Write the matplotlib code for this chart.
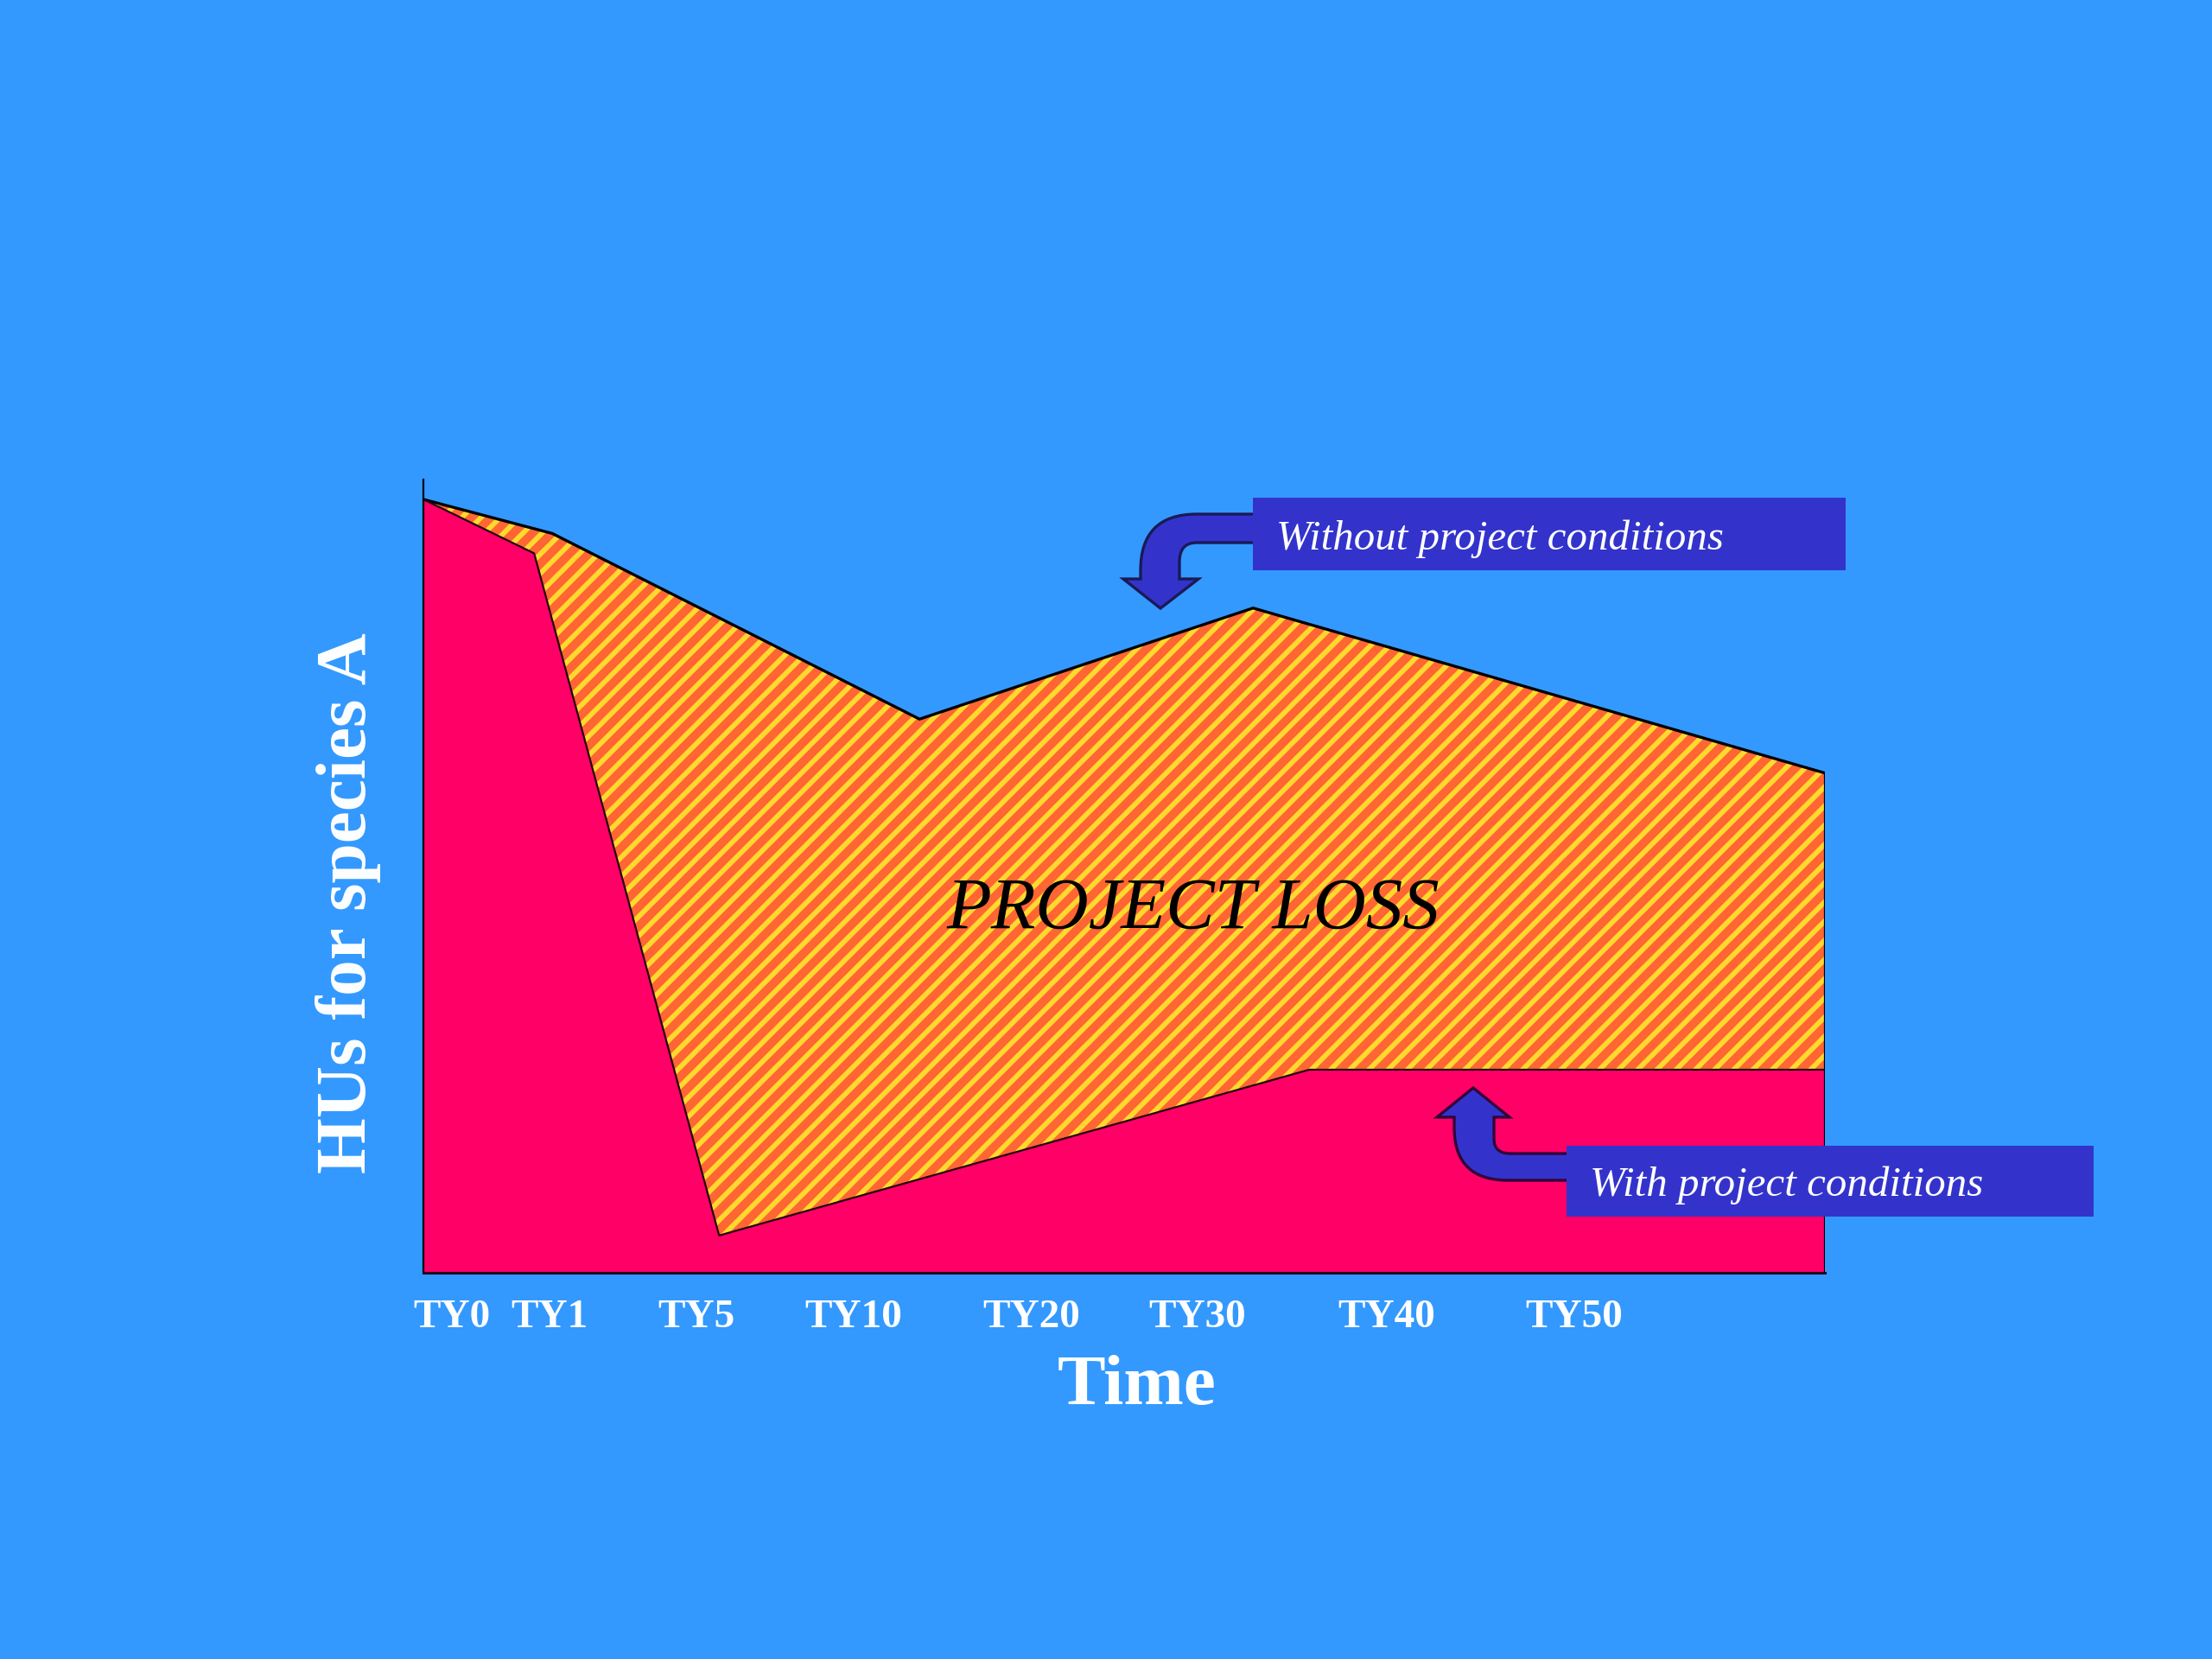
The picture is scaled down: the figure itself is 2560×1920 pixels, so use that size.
import matplotlib
matplotlib.use('Agg')
import matplotlib.pyplot as plt
import matplotlib.transforms as mtransforms
from matplotlib.path import Path
from matplotlib.patches import PathPatch, Rectangle
import numpy as np

# ---- data ----
without_x = [0, 9.2, 35.4, 59.2, 100]
without_y = [97.5, 93.2, 69.8, 83.8, 63.0]
with_x = [0, 7.9, 21.1, 63.2, 100]
with_y = [97.5, 90.7, 4.7, 25.6, 25.6]
tick_labels = ['TY0', 'TY1', 'TY5', 'TY10', 'TY20', 'TY30', 'TY40', 'TY50']
tick_pos = [2.0, 9.0, 19.5, 30.7, 43.4, 55.2, 68.7, 82.1]

BG = '#3399FF'
PINK = '#FF0066'
ORANGE = '#FF6633'
YELLOW = '#FFD92E'
BOX = '#3333CC'
SERIF = ['Liberation Serif', 'DejaVu Serif']

plt.rcParams['hatch.linewidth'] = 2.1

W, H = 2560, 1920
DPI = 200
fig = plt.figure(figsize=(W / DPI, H / DPI), dpi=DPI, facecolor=BG)
ax = fig.add_axes([490 / W, 1 - 1473 / H, (2112 - 490) / W, (1473 - 555) / H])
ax.set_facecolor('none')
ax.set_xlim(0, 100)
ax.set_ylim(0, 100)

# with-project area (pink)
ax.fill_between(with_x, 0, with_y, facecolor=PINK, edgecolor='none', zorder=1)
# project loss area (hatched)
px = np.r_[without_x, with_x[::-1]]
py = np.r_[without_y, with_y[::-1]]
ax.fill(px, py, facecolor=ORANGE, edgecolor='none', zorder=2)
ax.fill(px, py, facecolor='none', edgecolor=YELLOW, hatch='///', linewidth=0, zorder=3)
# outlines
ax.plot(without_x, without_y, color='black', lw=1.2, zorder=4, solid_joinstyle='round')
ax.plot(with_x, with_y, color='#220011', lw=0.8, zorder=4)
ax.plot([100, 100], [0, without_y[-1]], color='black', lw=0.8, zorder=4)

for s in ['top', 'right']:
    ax.spines[s].set_visible(False)
ax.spines['left'].set_color('black')
ax.spines['bottom'].set_color('#220022')
ax.spines['left'].set_linewidth(0.8)
ax.spines['bottom'].set_linewidth(1.1)
ax.set_yticks([])
ax.set_xticks(tick_pos)
ax.set_xticklabels(tick_labels, family=SERIF, fontweight='bold', color='white', fontsize=17)
ax.tick_params(axis='x', length=0, pad=11)

ax.text(54.9, 45.6, 'PROJECT LOSS', family=SERIF, style='italic', fontsize=30.5,
        color='black', ha='center', va='center', zorder=5)

# axis titles
fig.text(403 / W, 1 - 1045 / H, 'HUs for species A', family=SERIF, fontweight='bold',
         color='white', fontsize=30, rotation=90, ha='center', va='center')
fig.text(1316 / W, 1 - 1606 / H, 'Time', family=SERIF, fontweight='bold',
         color='white', fontsize=30, ha='center', va='center')

# pixel transform (y down)
T = mtransforms.Affine2D().scale(1 / W, -1 / H).translate(0, 1) + fig.transFigure

M, L, Q, C = Path.MOVETO, Path.LINETO, Path.CURVE3, Path.CLOSEPOLY
# bent arrow pointing down (without project)
v1 = [(1455, 595), (1385, 595), (1320, 595), (1320, 660), (1320, 670), (1300, 670),
      (1343, 704), (1387, 670), (1365, 670), (1365, 650), (1365, 628), (1385, 628),
      (1455, 628), (1455, 595)]
c1 = [M, L, Q, Q, L, L, L, L, L, L, Q, Q, L, C]
fig.add_artist(PathPatch(Path(v1, c1), facecolor=BOX, edgecolor='#1a1a55', lw=1.2,
                         transform=T, zorder=2))
# bent arrow pointing up (with project)
v2 = [(1705, 1259), (1747, 1293), (1729, 1293), (1729, 1318), (1729, 1335), (1748, 1335),
      (1818, 1335), (1818, 1366), (1745, 1366), (1683, 1366), (1683, 1305), (1683, 1293),
      (1663, 1293), (1705, 1259)]
c2 = [M, L, L, L, Q, Q, L, L, L, Q, Q, L, L, C]
fig.add_artist(PathPatch(Path(v2, c2), facecolor=BOX, edgecolor='#33003a', lw=1.2,
                         transform=T, zorder=2))

# label boxes
fig.add_artist(Rectangle((1450, 576), 686, 84, facecolor=BOX, edgecolor='none',
                         transform=T, zorder=3))
fig.text(1477 / W, 1 - 624 / H, 'Without project conditions', family=SERIF, style='italic',
         color='white', fontsize=17.6, ha='left', va='center', zorder=4)
fig.add_artist(Rectangle((1813, 1326), 610, 82, facecolor=BOX, edgecolor='none',
                         transform=T, zorder=3))
fig.text(1840 / W, 1 - 1372 / H, 'With project conditions', family=SERIF, style='italic',
         color='white', fontsize=17.6, ha='left', va='center', zorder=4)

fig.savefig('out.png', dpi=DPI, facecolor=BG)
